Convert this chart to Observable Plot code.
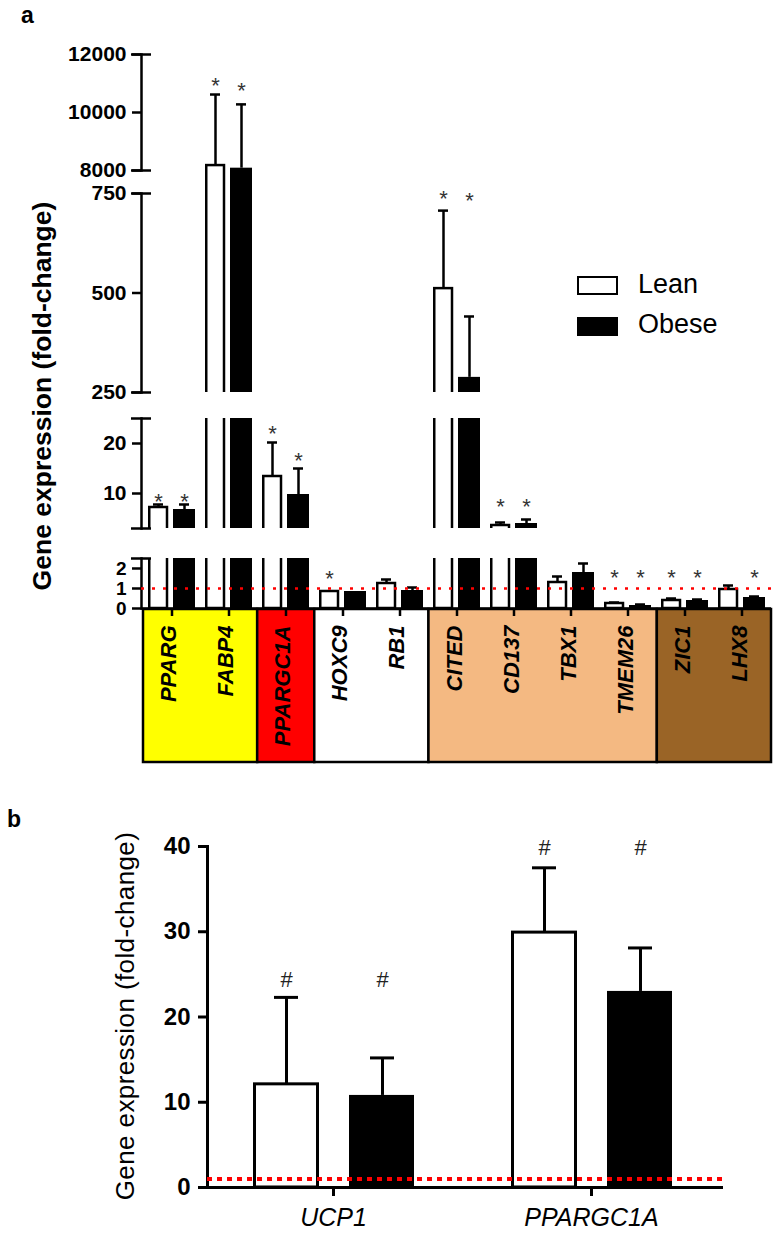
<!DOCTYPE html>
<html><head><meta charset="utf-8">
<script src="https://cdn.jsdelivr.net/npm/d3@7"></script>
<script src="https://cdn.jsdelivr.net/npm/@observablehq/plot@0.6"></script>
<style>
body{margin:0;background:#fff;font-family:"Liberation Sans",Arial,sans-serif;}
#root{position:relative;width:777px;height:1234px;overflow:hidden;background:#fff}
#root svg{position:absolute;left:0;overflow:visible;background:transparent}
.t{position:absolute;white-space:nowrap;color:#000;line-height:1}
</style></head><body><div id="root"></div>
<script>
// ---------- Panel a data ----------
const genes      = ["PPARG","FABP4","PPARGC1A","HOXC9","RB1","CITED","CD137","TBX1","TMEM26","ZIC1","LHX8"];
const geneGroup  = ["Adipogenic","Adipogenic","PGC1a","White","White","Beige","Beige","Beige","Beige","Brown","Brown"];
const leanMean   = [7.2, 8170, 13.4, 0.85, 1.25, 511, 3.6, 1.3, 0.25, 0.4, 0.95];
const leanSEM    = [0.6, 2450, 6.8, 0, 0.2, 196, 0.6, 0.3, 0.05, 0.1, 0.2];
const obeseMean  = [6.8, 8080, 9.8, 0.85, 0.9, 288, 4.0, 1.8, 0.15, 0.4, 0.55];
const obeseSEM   = [1.0, 2200, 5.2, 0, 0.15, 153, 0.8, 0.45, 0.05, 0.05, 0.05];
const leanStarAt = [9.4, 11100, 23, 1.78, null, 750, 8.4, null, 1.8, 1.8, null];
const obeseStarAt= [9.4, 10930, 17.6, null, null, 745, 8.4, null, 1.8, 1.8, 1.8];
const segDomains = [[8000,12000],[250,750],[3,25],[0,2.5]];
const segTicks   = [[8000,10000,12000],[250,500,750],[10,20],[0,1,2]];
const baseline   = 1;

// ---------- Panel b data ----------
const bGenes     = ["UCP1","PPARGC1A"];
const bLean      = [12.1, 29.9];
const bLeanSEM   = [10.2, 7.6];
const bObese     = [10.8, 23.0];
const bObeseSEM  = [4.4, 5.1];
const bLeanSig   = [24.5, 40];
const bObeseSig  = [24.5, 40];
const bTicks     = [0,10,20,30,40];

const groupColors = {Adipogenic:"#FFFF00", PGC1a:"#FF0000", White:"#FFFFFF", Beige:"#F4B982", Brown:"#9A6426"};

const rows = genes.map((g,i)=>({gene:g, i, lean:leanMean[i], leanErr:leanSEM[i], obese:obeseMean[i], obeseErr:obeseSEM[i], leanStar:leanStarAt[i], obeseStar:obeseStarAt[i]}));

const root = document.getElementById("root");
const FONT = '"Liberation Sans", Arial, sans-serif';
const fmt = d => String(d);
function place(svg, top){ svg.style.top = top + "px"; root.appendChild(svg); }
function addText(txt, css){ const d=document.createElement("div"); d.className="t"; d.textContent=txt; Object.assign(d.style, css); root.appendChild(d); return d; }

// layout of panel a
const W = 777, ML = 141, MR = 6;
const xA = {domain: genes, range:[143, 771], paddingInner:0.175, paddingOuter:0.0875};
const segFrames = [[54,170],[193,392],[418,528],[558,608]];
const leanDx = -13.5, obeseDx = 12.5, sw = 2.5;

segDomains.forEach((dom, s) => {
  const [lo, hi] = dom;
  let [ft, fb] = segFrames[s];
  const isBottom = s === 3;
  // the top segment's bars run on, unbroken, into the segment below it
  let yDom = dom, extra = 0;
  if (s === 0) {
    extra = segFrames[1][0] - fb;
    const perPx = (hi - lo) / (fb - ft);
    yDom = [lo - extra * perPx, hi];
    fb = fb + extra;
  }
  const mt = 26, mb = isBottom ? 14 : 8;
  const inSeg = v => v != null && v >= lo - 1e-9 && v <= hi + 1e-9;
  const errL = rows.filter(d => d.leanErr > 0);
  const errO = rows.filter(d => d.obeseErr > 0);
  const marks = [
    Plot.barY(rows, {x:"gene", y:"lean", fill:"white", stroke:"black", strokeWidth:sw, insetLeft:1.25, insetRight:28, clip:true}),
    Plot.barY(rows, {x:"gene", y:"obese", fill:"black", insetLeft:25, insetRight:0, clip:true}),
    Plot.ruleX(errL, {x:"gene", y1:"lean", y2:d=>d.lean+d.leanErr, dx:leanDx, strokeWidth:sw, clip:true}),
    Plot.ruleX(errO, {x:"gene", y1:"obese", y2:d=>d.obese+d.obeseErr, dx:obeseDx, strokeWidth:sw, clip:true}),
    Plot.tickY(errL.filter(d=>inSeg(d.lean+d.leanErr)), {x:"gene", y:d=>d.lean+d.leanErr, dx:leanDx, insetLeft:18.5, insetRight:18.5, strokeWidth:sw}),
    Plot.tickY(errO.filter(d=>inSeg(d.obese+d.obeseErr)), {x:"gene", y:d=>d.obese+d.obeseErr, dx:obeseDx, insetLeft:18.5, insetRight:18.5, strokeWidth:sw}),
    Plot.text(rows.filter(d=>inSeg(d.leanStar)), {x:"gene", y:"leanStar", text:()=>"*", dx:leanDx, dy:12.8, lineAnchor:"bottom", fontSize:22, fill:"#333"}),
    Plot.text(rows.filter(d=>inSeg(d.obeseStar)), {x:"gene", y:"obeseStar", text:()=>"*", dx:obeseDx, dy:12.8, lineAnchor:"bottom", fontSize:22, fill:"#333"}),
    Plot.axisY({ticks: segTicks[s], tickFormat: fmt, tickSize:9, tickPadding:6, strokeWidth:sw, fontSize: isBottom ? 19 : 21, fontWeight:"bold", label:null}),
    Plot.frame({anchor:"left", strokeWidth:sw, insetBottom: extra}),
    Plot.tickY(isBottom ? [hi] : dom, {y:d=>d, dx:-10, insetRight:(771-141)-20, strokeWidth:sw})
  ];
  if (isBottom) {
    marks.push(Plot.ruleY([0], {strokeWidth:sw}));
    marks.push(Plot.axisX({tickSize:8, strokeWidth:sw, tickFormat:()=>"", label:null}));
    marks.push(Plot.ruleY([baseline], {stroke:"#ff0000", strokeWidth:2.5, strokeDasharray:"3,8"}));
  }
  const svg = Plot.plot({
    width: W, height: mt + (fb-ft) + mb,
    marginLeft: ML, marginRight: MR, marginTop: mt, marginBottom: mb,
    x: isBottom ? xA : {...xA, axis:null},
    y: {domain: yDom},
    style: {fontFamily: FONT, background:"transparent", overflow:"visible", color:"#000"},
    marks
  });
  place(svg, ft - mt);
  if (s === 2) {
    // colored gene box chart (inserted before the bottom segment so ticks overlay)
    const runs = [];
    geneGroup.forEach((g,i)=>{ if(runs.length && runs[runs.length-1].group===g) runs[runs.length-1].end=i+1; else runs.push({group:g,start:i,end:i+1}); });
    const bt = 609, bb = 762;
    const box = Plot.plot({
      width: W, height: 10 + (bb-bt) + 6, marginLeft: ML, marginRight: MR, marginTop: 10, marginBottom: 6,
      x: {type:"linear", domain:[0, genes.length], range:[143,771], axis:null},
      y: {domain:[0,1], axis:null},
      color: {domain:Object.keys(groupColors), range:Object.values(groupColors)},
      style: {fontFamily: FONT, background:"transparent", overflow:"visible"},
      marks: [
        Plot.rect(runs, {x1:"start", x2:"end", y1:0, y2:1, fill:"group", stroke:"black", strokeWidth:sw}),
        Plot.text(genes, {x:(d,i)=>i+0.5, y:1, text:d=>d, rotate:-90, textAnchor:"end", lineAnchor:"middle", dy:16, dx:-3, fontSize:22, fontWeight:"bold", fontStyle:"italic", fill:"#000"})
      ]
    });
    place(box, bt - 10);
  }
});

addText("a", {left:"21px", top:"4px", fontSize:"23px", fontWeight:"bold"});
addText("Gene expression (fold-change)", {left:"42px", top:"396px", fontSize:"26.5px", fontWeight:"bold", transform:"translate(-50%,-50%) rotate(-90deg)"});
// legend
const lb = document.createElement("div"); Object.assign(lb.style,{position:"absolute",left:"577px",top:"276px",width:"41px",height:"19px",border:"2.5px solid #000",boxSizing:"border-box",background:"#fff"}); root.appendChild(lb);
const ob = document.createElement("div"); Object.assign(ob.style,{position:"absolute",left:"577px",top:"317px",width:"41px",height:"19px",background:"#000"}); root.appendChild(ob);
addText("Lean", {left:"638px", top:"271px", fontSize:"27px"});
addText("Obese", {left:"638px", top:"311px", fontSize:"27px"});

// ---------- Panel b ----------
const bRows = bGenes.map((g,i)=>({gene:g, lean:bLean[i], leanErr:bLeanSEM[i], obese:bObese[i], obeseErr:bObeseSEM[i], ls:bLeanSig[i], os:bObeseSig[i]}));
const bTop = 846, bBot = 1187, bmt = 46, bmb = 47;
const bsw = 3;
const svgB = Plot.plot({
  width: W, height: bmt + (bBot-bTop) + bmb,
  marginLeft: 207, marginRight: 54, marginTop: bmt, marginBottom: bmb,
  x: {domain: bGenes, range:[204,720], paddingInner:0.372, paddingOuter:0.186},
  y: {domain:[0,40]},
  style: {fontFamily: FONT, background:"transparent", overflow:"visible", color:"#000"},
  marks: [
    Plot.barY(bRows, {x:"gene", y:"lean", fill:"white", stroke:"black", strokeWidth:bsw, insetLeft:2.5, insetRight:96.5}),
    Plot.barY(bRows, {x:"gene", y:"obese", fill:"black", insetLeft:97, insetRight:0}),
    Plot.ruleX(bRows, {x:"gene", y1:"lean", y2:d=>d.lean+d.leanErr, dx:-47, strokeWidth:bsw}),
    Plot.ruleX(bRows, {x:"gene", y1:"obese", y2:d=>d.obese+d.obeseErr, dx:49, strokeWidth:bsw}),
    Plot.tickY(bRows, {x:"gene", y:d=>d.lean+d.leanErr, dx:-47, insetLeft:69, insetRight:69, strokeWidth:bsw}),
    Plot.tickY(bRows, {x:"gene", y:d=>d.obese+d.obeseErr, dx:49, insetLeft:69, insetRight:69, strokeWidth:bsw}),
    Plot.text(bRows, {x:"gene", y:"ls", text:()=>"#", dx:-47, dy:8, lineAnchor:"bottom", fontSize:22, fill:"#222"}),
    Plot.text(bRows, {x:"gene", y:"os", text:()=>"#", dx:49, dy:8, lineAnchor:"bottom", fontSize:22, fill:"#222"}),
    Plot.axisY({ticks:bTicks, tickFormat: fmt, tickSize:9, tickPadding:8, strokeWidth:bsw, fontSize:24, fontWeight:"bold", label:null}),
    Plot.frame({anchor:"left", strokeWidth:bsw}),
    Plot.ruleY([0], {strokeWidth:bsw}),
    Plot.axisX({tickSize:9, tickPadding:12, strokeWidth:bsw, fontSize:25, fontStyle:"italic", letterSpacing:"2px", label:null}),
    Plot.ruleY([baseline], {stroke:"#ff0000", strokeWidth:4, strokeDasharray:"5,5"})
  ]
});
place(svgB, bTop - bmt);
addText("b", {left:"7px", top:"808px", fontSize:"23px", fontWeight:"bold"});
addText("Gene expression (fold-change)", {left:"125px", top:"1016px", fontSize:"26px", letterSpacing:"0.4px", transform:"translate(-50%,-50%) rotate(-90deg)"});
</script></body></html>
